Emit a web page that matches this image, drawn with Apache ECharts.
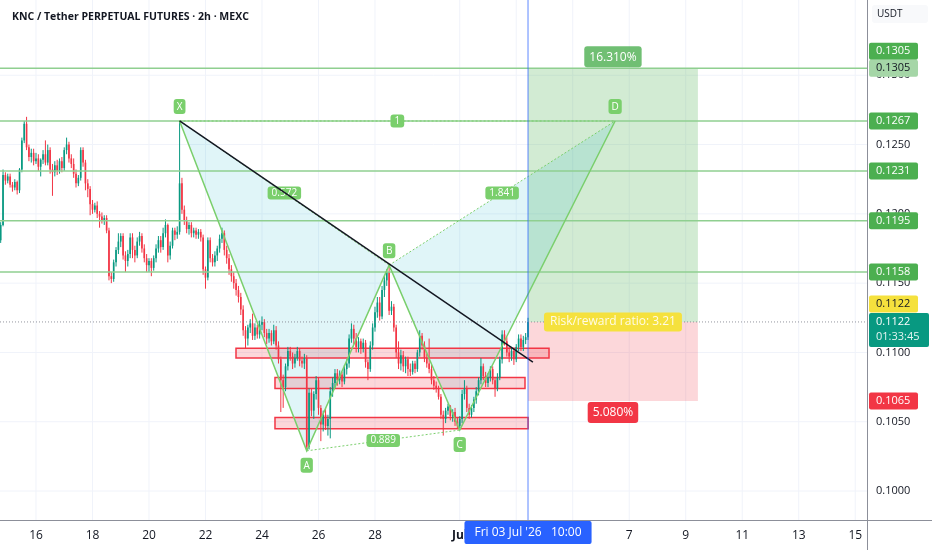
<!DOCTYPE html>
<html><head><meta charset="utf-8">
<script src="https://cdn.jsdelivr.net/npm/echarts@6/dist/echarts.min.js"></script>
<style>html,body{margin:0;padding:0;background:#fff}#c{width:932px;height:550px}</style>
</head><body><div id="c"></div>
<script>
// ---- data (time unit: day, June numbering: Jul 1 = 31) ----
const title = 'KNC / Tether PERPETUAL FUTURES · 2h · MEXC';
const firstBar = 14.75;      // Jun 14 18:00
const barDays = 1 / 12;      // 2h bars
// [open, high, low, close]
const ohlc = [
[.1181,.1194,.1179,.1192],[.1192,.1232,.1191,.1228],[.1228,.1230,.1221,.1224],[.1224,.1229,.1222,.1227],[.1227,.1229,.1219,.1221],
[.1221,.1223,.1216,.1219],[.1219,.1225,.1217,.1223],[.1223,.1224,.1214,.1217],[.1217,.1233,.1215,.1232],[.1232,.1255,.1230,.1253],
[.1253,.1267,.1251,.1265],[.1265,.1270,.1246,.1248],[.1248,.1250,.1238,.1241],[.1241,.1247,.1237,.1244],[.1244,.1247,.1235,.1238],
[.1238,.1244,.1236,.1240],[.1240,.1243,.1231,.1234],[.1234,.1240,.1227,.1239],[.1239,.1246,.1236,.1243],[.1243,.1253,.1235,.1237],
[.1237,.1250,.1235,.1246],[.1246,.1248,.1229,.1232],[.1232,.1236,.1213,.1230],[.1230,.1238,.1227,.1235],[.1235,.1239,.1228,.1231],
[.1231,.1240,.1229,.1238],[.1238,.1241,.1230,.1233],[.1233,.1248,.1231,.1246],[.1246,.1255,.1243,.1250],[.1250,.1252,.1237,.1240],
[.1240,.1243,.1233,.1236],[.1236,.1240,.1226,.1229],[.1229,.1232,.1219,.1222],[.1222,.1228,.1220,.1226],[.1226,.1248,.1224,.1246],
[.1246,.1248,.1234,.1237],[.1237,.1239,.1217,.1222],[.1222,.1225,.1212,.1218],[.1218,.1220,.1199,.1207],[.1207,.1210,.1200,.1203],
[.1203,.1208,.1201,.1206],[.1206,.1209,.1197,.1200],[.1200,.1202,.1190,.1198],[.1198,.1201,.1193,.1195],[.1195,.1199,.1192,.1197],
[.1197,.1199,.1186,.1188],[.1188,.1190,.1152,.1155],[.1155,.1158,.1150,.1153],[.1153,.1167,.1151,.1165],[.1165,.1176,.1162,.1174],
[.1174,.1186,.1171,.1180],[.1180,.1186,.1176,.1184],[.1184,.1186,.1167,.1170],[.1170,.1173,.1158,.1166],[.1166,.1174,.1162,.1171],
[.1171,.1186,.1168,.1183],[.1183,.1186,.1168,.1174],[.1174,.1177,.1165,.1170],[.1170,.1183,.1168,.1180],[.1180,.1187,.1177,.1184],
[.1184,.1186,.1172,.1175],[.1175,.1178,.1165,.1168],[.1168,.1171,.1158,.1163],[.1163,.1168,.1158,.1166],[.1166,.1168,.1155,.1161],
[.1161,.1170,.1159,.1168],[.1168,.1178,.1165,.1175],[.1175,.1184,.1172,.1181],[.1181,.1184,.1172,.1176],[.1176,.1190,.1174,.1186],
[.1186,.1196,.1183,.1192],[.1192,.1193,.1165,.1170],[.1170,.1180,.1167,.1177],[.1177,.1190,.1175,.1188],[.1188,.1190,.1181,.1185],
[.1185,.1191,.1182,.1187],[.1187,.1267,.1185,.1222],[.1222,.1226,.1200,.1203],[.1203,.1206,.1192,.1195],[.1195,.1198,.1186,.1189],
[.1189,.1194,.1185,.1192],[.1192,.1194,.1183,.1186],[.1186,.1190,.1183,.1188],[.1188,.1190,.1182,.1185],[.1185,.1189,.1182,.1187],
[.1187,.1189,.1180,.1183],[.1183,.1185,.1156,.1160],[.1160,.1162,.1146,.1154],[.1154,.1183,.1152,.1181],[.1181,.1183,.1165,.1168],
[.1168,.1171,.1162,.1165],[.1165,.1173,.1162,.1170],[.1170,.1177,.1166,.1175],[.1175,.1185,.1172,.1182],[.1182,.1190,.1179,.1186],
[.1186,.1188,.1170,.1174],[.1174,.1177,.1164,.1168],[.1168,.1171,.1156,.1160],[.1160,.1163,.1151,.1155],[.1155,.1158,.1146,.1150],
[.1150,.1153,.1141,.1145],[.1145,.1148,.1136,.1140],[.1140,.1143,.1127,.1131],[.1131,.1134,.1112,.1116],[.1116,.1119,.1103,.1110],
[.1110,.1120,.1105,.1118],[.1118,.1124,.1114,.1121],[.1121,.1128,.1109,.1112],[.1112,.1121,.1109,.1118],[.1118,.1120,.1110,.1113],
[.1113,.1123,.1110,.1120],[.1120,.1126,.1116,.1122],[.1122,.1124,.1111,.1114],[.1114,.1117,.1106,.1110],[.1110,.1117,.1107,.1114],
[.1114,.1116,.1105,.1108],[.1108,.1120,.1106,.1116],[.1116,.1119,.1102,.1105],[.1105,.1108,.1092,.1095],[.1095,.1097,.1057,.1080],
[.1080,.1084,.1060,.1075],[.1075,.1092,.1072,.1090],[.1090,.1104,.1087,.1101],[.1101,.1104,.1094,.1097],[.1097,.1100,.1088,.1092],
[.1092,.1099,.1089,.1096],[.1096,.1104,.1094,.1101],[.1101,.1103,.1090,.1094],[.1094,.1097,.1089,.1092],[.1092,.1099,.1088,.1096],
[.1096,.1098,.1029,.1032],[.1032,.1074,.1030,.1071],[.1071,.1074,.1054,.1058],[.1058,.1072,.1052,.1070],[.1070,.1083,.1066,.1080],
[.1080,.1082,.1055,.1060],[.1060,.1062,.1036,.1048],[.1048,.1058,.1043,.1055],[.1055,.1060,.1044,.1047],[.1047,.1055,.1040,.1052],
[.1052,.1075,.1038,.1072],[.1072,.1082,.1068,.1078],[.1078,.1088,.1074,.1085],[.1085,.1088,.1076,.1080],[.1080,.1087,.1077,.1084],
[.1084,.1086,.1075,.1079],[.1079,.1091,.1077,.1088],[.1088,.1095,.1084,.1092],[.1092,.1113,.1089,.1110],[.1110,.1121,.1107,.1117],
[.1117,.1120,.1106,.1110],[.1110,.1114,.1100,.1104],[.1104,.1111,.1100,.1108],[.1108,.1110,.1099,.1103],[.1103,.1110,.1100,.1107],
[.1107,.1109,.1089,.1093],[.1093,.1095,.1080,.1088],[.1088,.1108,.1086,.1105],[.1105,.1121,.1102,.1118],[.1118,.1133,.1115,.1129],
[.1129,.1140,.1125,.1136],[.1136,.1140,.1123,.1126],[.1126,.1148,.1124,.1145],[.1145,.1155,.1140,.1152],[.1152,.1160,.1148,.1158],
[.1158,.1163,.1127,.1130],[.1130,.1137,.1127,.1133],[.1133,.1135,.1115,.1118],[.1118,.1120,.1096,.1100],[.1100,.1108,.1088,.1092],
[.1092,.1102,.1087,.1098],[.1098,.1101,.1086,.1090],[.1090,.1097,.1085,.1095],[.1095,.1097,.1083,.1088],[.1088,.1092,.1083,.1086],
[.1086,.1094,.1084,.1092],[.1092,.1094,.1085,.1088],[.1088,.1102,.1086,.1100],[.1100,.1116,.1097,.1112],[.1112,.1114,.1102,.1105],
[.1105,.1108,.1093,.1096],[.1096,.1099,.1089,.1092],[.1092,.1110,.1085,.1088],[.1088,.1091,.1077,.1080],[.1080,.1083,.1073,.1076],
[.1076,.1079,.1071,.1074],[.1074,.1076,.1066,.1068],[.1068,.1070,.1052,.1055],[.1055,.1058,.1040,.1052],[.1052,.1060,.1049,.1058],
[.1058,.1063,.1055,.1061],[.1061,.1062,.1051,.1054],[.1054,.1059,.1050,.1057],[.1057,.1060,.1047,.1050],[.1050,.1053,.1045,.1047],
[.1047,.1054,.1044,.1052],[.1052,.1073,.1049,.1070],[.1070,.1080,.1066,.1074],[.1074,.1076,.1057,.1060],[.1060,.1063,.1052,.1055],
[.1055,.1062,.1053,.1060],[.1060,.1068,.1057,.1066],[.1066,.1075,.1063,.1072],[.1072,.1082,.1069,.1080],[.1080,.1096,.1077,.1090],
[.1090,.1092,.1080,.1083],[.1083,.1086,.1075,.1078],[.1078,.1085,.1075,.1082],[.1082,.1090,.1079,.1088],[.1088,.1090,.1077,.1080],
[.1080,.1082,.1068,.1074],[.1074,.1085,.1072,.1082],[.1082,.1097,.1080,.1095],[.1095,.1116,.1092,.1113],[.1113,.1116,.1105,.1108],
[.1108,.1111,.1097,.1100],[.1100,.1104,.1093,.1097],[.1097,.1104,.1094,.1101],[.1101,.1103,.1091,.1095],[.1095,.1106,.1093,.1104],
[.1104,.1113,.1101,.1110],[.1110,.1113,.1101,.1104],[.1104,.1112,.1101,.1109],[.1109,.1114,.1106,.1111],[.1111,.1125,.1109,.1122]
];
const xTicks = [16, 18, 20, 22, 24, 26, 28, 31, 33, 35, 37, 39, 41, 43, 45];
const xTickLabels = ['16', '18', '20', '22', '24', '26', '28', 'Jul', '3', '5', '7', '9', '11', '13', '15'];
const yTicks = [0.1000, 0.1050, 0.1100, 0.1150, 0.1200, 0.1250, 0.1300];
const levels = [0.1305, 0.1267, 0.1231, 0.1195, 0.1158];
// support zones: [startDay, endDay, topPrice, bottomPrice]
const zones = [[23.08, 34.16, 0.1103, 0.1096], [24.46, 33.31, 0.1082, 0.1074], [24.46, 33.42, 0.1053, 0.1045]];
const pointNames = ['X', 'A', 'B', 'C', 'D'];
const pointTimes = [21.083, 25.583, 28.5, 31.0, 36.5];
const pointPrices = [0.1267, 0.1029, 0.1163, 0.1044, 0.1267];
const ratioPairs = [[0, 2], [2, 4], [1, 3], [0, 4]];
const ratioTexts = ['0.572', '1.841', '0.889', '1'];
const trendLine = [[21.083, 0.1267], [33.59, 0.1093]];
const entry = 0.1122, target = 0.1305, stop = 0.1065;
const posStart = 33.4167, posEnd = 39.43;
const targetPct = '16.310%', stopPct = '5.080%', rrText = 'Risk/reward ratio: 3.21';
const lastPrice = 0.1122, countdown = '01:33:45';
const cursorTime = 33.4167, cursorLabel = "Fri 03 Jul '26   10:00";
const currency = 'USDT';

// ---- view ----
const xMin = 14.726, xMax = 45.416, yMin = 0.09791, yMax = 0.13543;
const FF = '"Open Sans", sans-serif';
const font = (s, w) => (w || 'normal') + ' ' + s + 'px ' + FF;
const UP = '#089981', DOWN = '#f23645', PAT = '#7acf6c', LVL = '#8fcf90';

const chart = echarts.init(document.getElementById('c'), null, {renderer: 'canvas'});

function once(fn) { return (params, api) => params.dataIndex === 0 ? fn(api) : null; }
function tag(x, y, text, bg, fg, size, pad, radius, va, align, w) {
  return {type: 'text', style: {x, y, text, fill: fg, font: font(size, w), align: align || 'center',
    verticalAlign: va || 'middle', backgroundColor: bg, padding: pad, borderRadius: radius}};
}

const series = [
  { // vertical grid
    type: 'custom', silent: true, data: xTicks.map(t => [t, yMin]),
    renderItem: (p, api) => { const a = api.coord([api.value(0), yMax]), b = api.coord([api.value(0), yMin]);
      return {type: 'line', shape: {x1: a[0], y1: a[1], x2: b[0], y2: b[1]}, style: {stroke: '#f0f3fa', lineWidth: 1}}; }
  },
  { // horizontal grid
    type: 'custom', silent: true, data: yTicks.map(v => [xMin, v]),
    renderItem: (p, api) => { const a = api.coord([xMin, api.value(1)]), b = api.coord([xMax, api.value(1)]);
      return {type: 'line', shape: {x1: a[0], y1: a[1], x2: b[0], y2: b[1]}, style: {stroke: '#f0f3fa', lineWidth: 1}}; }
  },
  { // long position boxes
    type: 'custom', silent: true, data: [[posStart, target], [posEnd, stop]],
    renderItem: once(api => {
      const a = api.coord([posStart, target]), b = api.coord([posEnd, entry]), c = api.coord([posEnd, stop]);
      return {type: 'group', children: [
        {type: 'rect', shape: {x: a[0], y: a[1], width: b[0] - a[0], height: b[1] - a[1]}, style: {fill: 'rgba(76,175,80,0.25)'}},
        {type: 'rect', shape: {x: a[0], y: b[1], width: b[0] - a[0], height: c[1] - b[1]}, style: {fill: 'rgba(242,54,69,0.2)'}}
      ]};
    })
  },
  { // harmonic pattern fill
    type: 'custom', silent: true, data: pointTimes.map((t, i) => [t, pointPrices[i]]),
    renderItem: once(api => {
      const pts = pointTimes.map((t, i) => api.coord([t, pointPrices[i]]));
      return {type: 'group', children: [
        {type: 'polygon', shape: {points: [pts[0], pts[1], pts[2]]}, style: {fill: 'rgba(0,172,200,0.12)'}},
        {type: 'polygon', shape: {points: [pts[2], pts[3], pts[4]]}, style: {fill: 'rgba(0,172,200,0.12)'}}
      ]};
    })
  },
  { // support zones
    type: 'custom', silent: true, data: zones.map(z => [z[0], z[2], z[1], z[3]]),
    renderItem: (p, api) => {
      const a = api.coord([api.value(0), api.value(1)]), b = api.coord([api.value(2), api.value(3)]);
      return {type: 'rect', shape: {x: a[0], y: a[1], width: b[0] - a[0], height: b[1] - a[1]},
        style: {fill: 'rgba(242,54,69,0.2)', stroke: '#f23645', lineWidth: 1.5}};
    }
  },
  { // candles
    type: 'custom', name: 'KNCUSDT', clip: true,
    data: ohlc.map((d, i) => [firstBar + i * barDays, d[0], d[1], d[2], d[3]]),
    encode: {x: 0, y: [1, 2, 3, 4]},
    renderItem: (p, api) => {
      const t = api.value(0), o = api.value(1), h = api.value(2), l = api.value(3), c = api.value(4);
      const pO = api.coord([t, o]), pC = api.coord([t, c]), pH = api.coord([t, h]), pL = api.coord([t, l]);
      const w = api.size([barDays, 0])[0] * 0.7;
      const col = c >= o ? UP : DOWN;
      const top = Math.min(pO[1], pC[1]), ht = Math.max(1, Math.abs(pO[1] - pC[1]));
      return {type: 'group', children: [
        {type: 'line', shape: {x1: pH[0], y1: pH[1], x2: pL[0], y2: pL[1]}, style: {stroke: col, lineWidth: 1}},
        {type: 'rect', shape: {x: pO[0] - w / 2, y: top, width: w, height: ht}, style: {fill: col}}
      ]};
    }
  },
  { // horizontal levels
    type: 'custom', silent: true, data: levels.map(v => [xMin, v]),
    renderItem: (p, api) => { const a = api.coord([xMin, api.value(1)]), b = api.coord([xMax, api.value(1)]);
      return {type: 'line', shape: {x1: a[0], y1: a[1], x2: b[0], y2: b[1]}, style: {stroke: LVL, lineWidth: 1.5}}; }
  },
  { // last price dotted line
    type: 'custom', silent: true, data: [[xMin, lastPrice]],
    renderItem: (p, api) => { const a = api.coord([xMin, lastPrice]), b = api.coord([xMax, lastPrice]);
      return {type: 'line', shape: {x1: a[0], y1: a[1], x2: b[0], y2: b[1]}, style: {stroke: 'rgba(120,123,134,0.8)', lineWidth: 1, lineDash: [1, 2]}}; }
  },
  { // pattern lines
    type: 'custom', silent: true, data: pointTimes.map((t, i) => [t, pointPrices[i]]),
    renderItem: once(api => {
      const pts = pointTimes.map((t, i) => api.coord([t, pointPrices[i]]));
      const ch = [{type: 'polyline', shape: {points: pts}, style: {stroke: PAT, lineWidth: 1.5, fill: null}}];
      ratioPairs.forEach(([i, j]) => ch.push({type: 'line', shape: {x1: pts[i][0], y1: pts[i][1], x2: pts[j][0], y2: pts[j][1]},
        style: {stroke: PAT, lineWidth: 1, lineDash: [2, 2]}}));
      return {type: 'group', children: ch};
    })
  },
  { // ratio labels
    type: 'custom', silent: true, data: ratioPairs.map(([i, j]) => [(pointTimes[i] + pointTimes[j]) / 2, (pointPrices[i] + pointPrices[j]) / 2]),
    renderItem: (p, api) => { const c = api.coord([api.value(0), api.value(1)]);
      return tag(c[0], c[1], ratioTexts[p.dataIndex], PAT, '#fff', 10, [2, 4, 1, 4], 3); }
  },
  { // trend line
    type: 'custom', silent: true, data: trendLine,
    renderItem: once(api => { const a = api.coord(trendLine[0]), b = api.coord(trendLine[1]);
      return {type: 'line', shape: {x1: a[0], y1: a[1], x2: b[0], y2: b[1]}, style: {stroke: '#131722', lineWidth: 1.5}}; })
  },
  { // pattern point labels
    type: 'custom', silent: true, data: pointTimes.map((t, i) => [t, pointPrices[i]]),
    renderItem: (p, api) => { const c = api.coord([api.value(0), api.value(1)]);
      const above = p.dataIndex % 2 === 0;
      return tag(c[0], above ? c[1] - 7 : c[1] + 7, pointNames[p.dataIndex], PAT, '#fff', 10, [3, 3, 2, 3], 3, above ? 'bottom' : 'top'); }
  },
  { // position labels
    type: 'custom', silent: true, data: [[posStart, target]],
    renderItem: once(api => {
      const mid = (posStart + posEnd) / 2;
      const a = api.coord([mid, target]), b = api.coord([mid, entry]), c = api.coord([mid, stop]);
      return {type: 'group', children: [
        tag(a[0], a[1] - 1, targetPct, 'rgba(76,175,80,0.8)', '#fff', 12, [5, 5, 4, 5], 3, 'bottom'),
        tag(b[0], b[1], rrText, '#f5e13d', '#fffbe6', 12, [4, 6, 3, 6], 3),
        tag(c[0], c[1] + 1, stopPct, '#f23645', '#fff', 12, [5, 5, 4, 5], 3, 'top')
      ]};
    })
  },
  { // crosshair
    type: 'custom', silent: true, clip: false, data: [[cursorTime, yMin]],
    renderItem: once(api => {
      const a = api.coord([cursorTime, yMax]), b = api.coord([cursorTime, yMin]);
      return {type: 'group', children: [
        {type: 'line', shape: {x1: a[0], y1: a[1], x2: b[0], y2: b[1]}, style: {stroke: '#2962ff', lineWidth: 1, opacity: 0.75}},
        tag(b[0], b[1] + 1, cursorLabel, '#2962ff', '#fff', 12, [6, 10, 5, 10], 2, 'top')
      ]};
    })
  },
  { // price scale tags
    type: 'custom', silent: true, clip: false, data: [[xMax, target]],
    renderItem: once(api => {
      const tags = [
        {v: target, bg: '#4caf50', fg: '#fff', dy: -17},
        {v: levels[0], bg: '#a5d6a7', fg: '#131722'},
        {v: levels[1], bg: '#4caf50', fg: '#fff'},
        {v: levels[2], bg: '#4caf50', fg: '#fff'},
        {v: levels[3], bg: '#4caf50', fg: '#fff'},
        {v: levels[4], bg: '#4caf50', fg: '#fff'},
        {v: entry, bg: '#f5e13d', fg: '#131722', dy: -18},
        {v: stop, bg: '#f23645', fg: '#fff'}
      ];
      const ch = [];
      tags.forEach(t => {
        const c = api.coord([xMax, t.v]); const y = c[1] + (t.dy || 0);
        ch.push({type: 'rect', shape: {x: c[0] + 2, y: y - 8.5, width: 49, height: 17, r: 2}, style: {fill: t.bg}});
        ch.push({type: 'text', style: {x: c[0] + 9, y: y, text: t.v.toFixed(4), fill: t.fg, font: font(11), align: 'left', verticalAlign: 'middle'}});
      });
      const lp = api.coord([xMax, lastPrice]);
      ch.push({type: 'rect', shape: {x: lp[0] + 2, y: lp[1] - 9, width: 60, height: 34, r: 2}, style: {fill: UP}});
      ch.push({type: 'text', style: {x: lp[0] + 9, y: lp[1], text: lastPrice.toFixed(4), fill: '#fff', font: font(11), align: 'left', verticalAlign: 'middle'}});
      ch.push({type: 'text', style: {x: lp[0] + 9, y: lp[1] + 15, text: countdown, fill: '#e6f5f2', font: font(11), align: 'left', verticalAlign: 'middle'}});
      const top = api.coord([xMax, yMax]);
      ch.push({type: 'rect', shape: {x: top[0] + 5, y: top[1] + 5, width: 56, height: 18, r: 3}, style: {fill: '#f8f9fb'}});
      ch.push({type: 'text', style: {x: top[0] + 10, y: top[1] + 14, text: currency, fill: '#131722', font: font(10), align: 'left', verticalAlign: 'middle'}});
      return {type: 'group', children: ch};
    })
  }
];

chart.setOption({
  animation: false,
  backgroundColor: '#ffffff',
  textStyle: {fontFamily: FF},
  title: {text: title, left: 7, top: 7, textStyle: {fontSize: 10.5, fontWeight: 'bold', color: '#131722', fontFamily: FF}},
  grid: {left: 0, right: 65, top: 0, bottom: 30},
  xAxis: {
    type: 'value', min: xMin, max: xMax,
    axisLine: {show: false}, axisTick: {show: false}, splitLine: {show: false},
    axisLabel: {customValues: xTicks, color: '#131722', fontSize: 12, margin: 10, fontFamily: FF,
      formatter: v => { const i = xTicks.indexOf(v); if (i < 0) return ''; const s = xTickLabels[i]; return isNaN(+s) ? '{b|' + s + '}' : s; },
      rich: {b: {fontWeight: 'bold', fontSize: 12, color: '#131722', fontFamily: FF}}}
  },
  yAxis: {
    type: 'value', position: 'right', min: yMin, max: yMax,
    axisLine: {show: false}, axisTick: {show: false}, splitLine: {show: false},
    axisLabel: {customValues: yTicks, color: '#131722', fontSize: 11, margin: 9, fontFamily: FF, formatter: v => v.toFixed(4)}
  },
  graphic: [
    {type: 'line', z: 100, shape: {x1: 0, y1: 520.5, x2: 932, y2: 520.5}, style: {stroke: '#8c8f99', lineWidth: 1}},
    {type: 'line', z: 100, shape: {x1: 867.5, y1: 0, x2: 867.5, y2: 550}, style: {stroke: '#8c8f99', lineWidth: 1}}
  ],
  series
});
</script>
</body></html>
